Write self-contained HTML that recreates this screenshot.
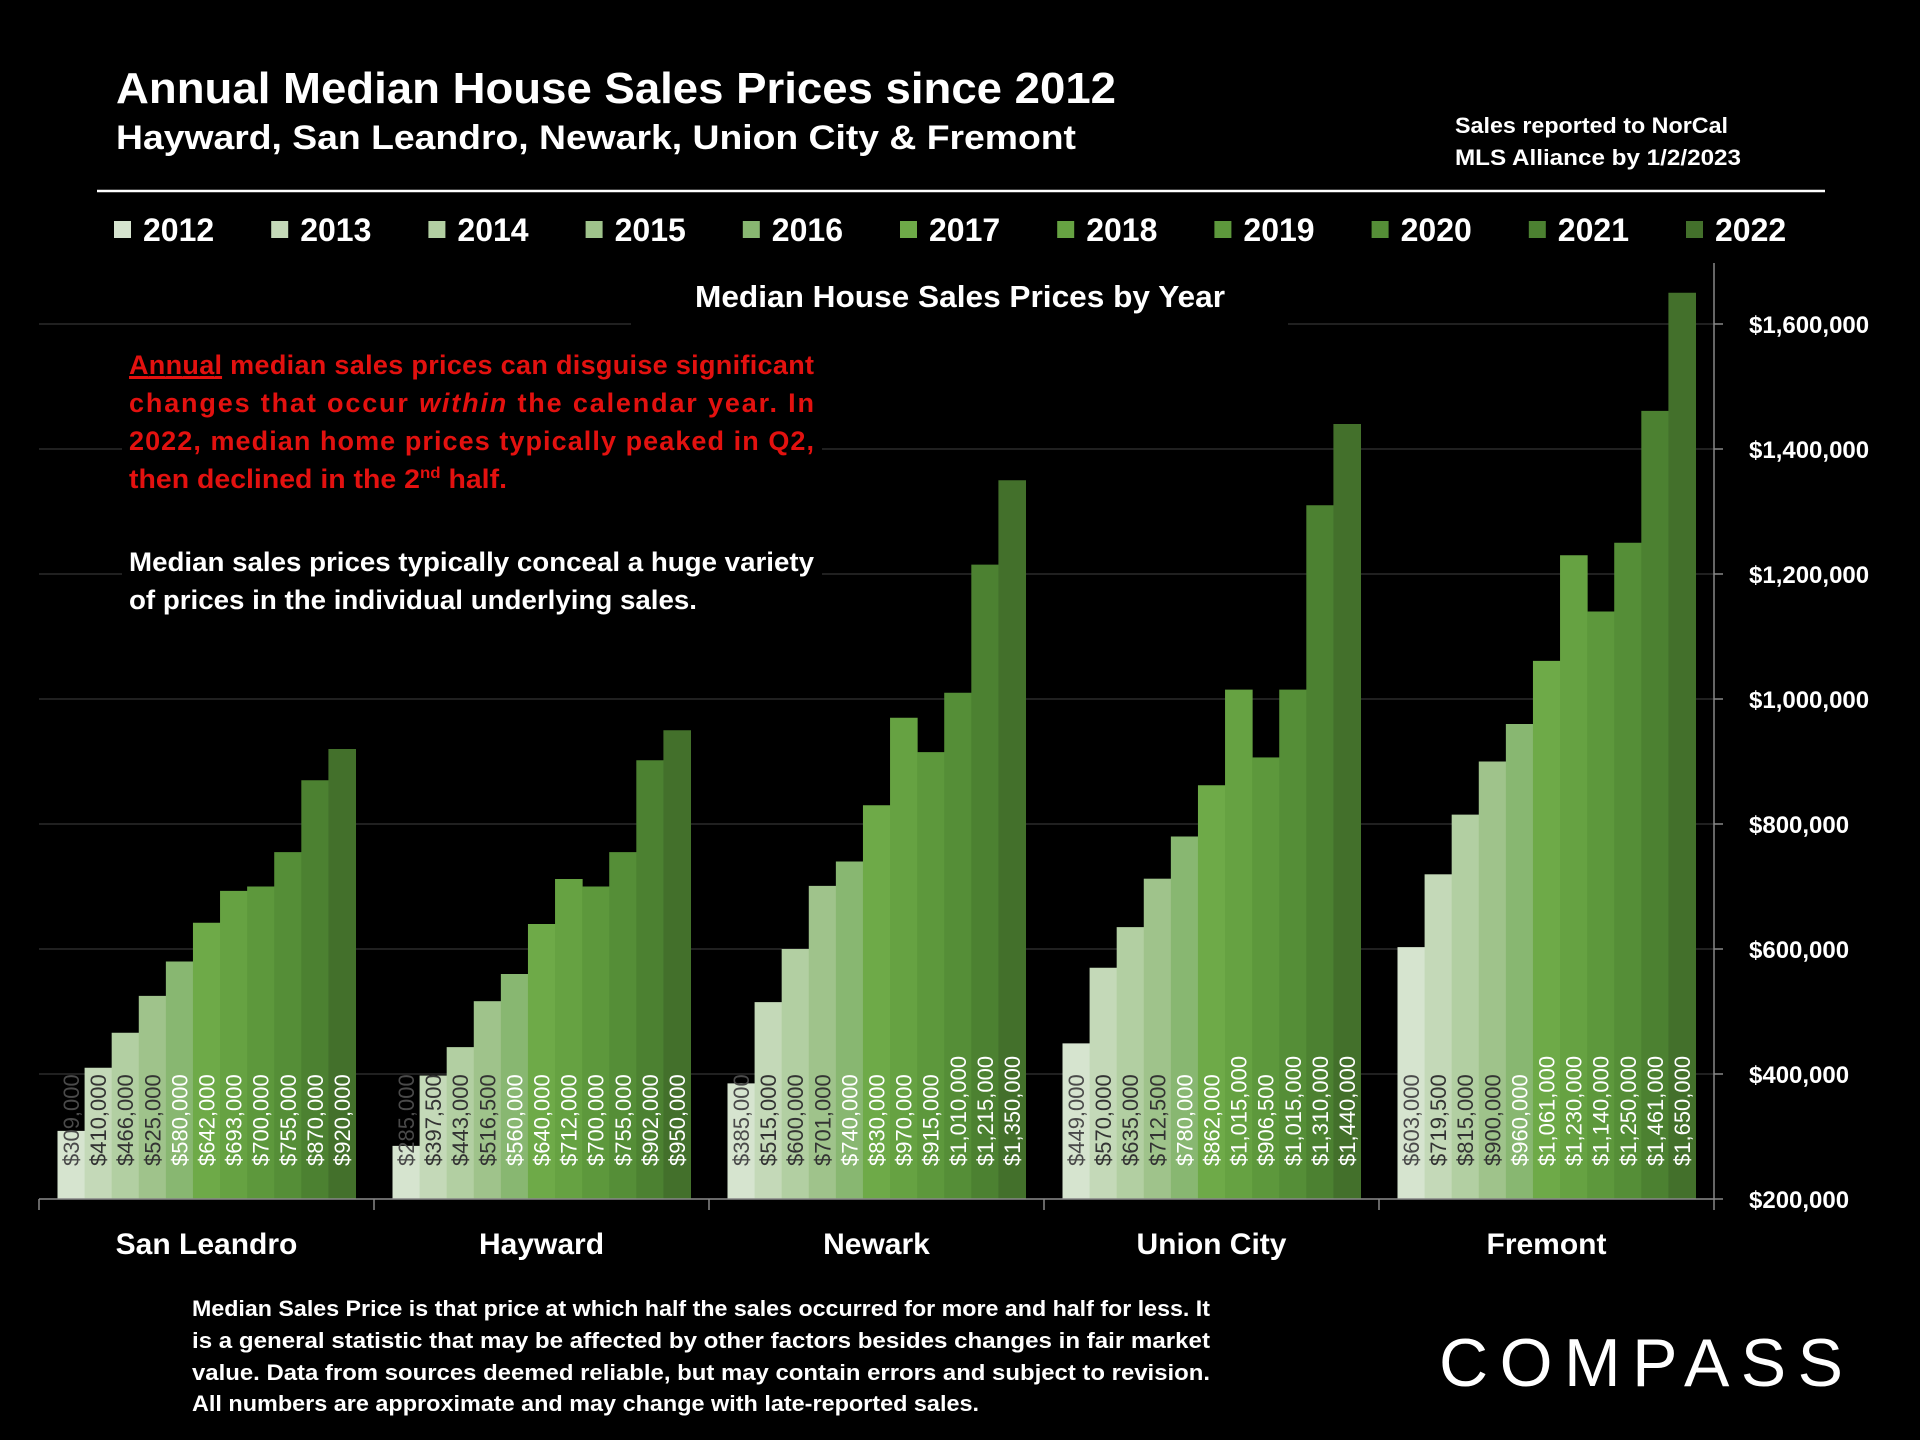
<!DOCTYPE html>
<html><head><meta charset="utf-8"><style>
html,body{margin:0;padding:0;background:#000;}
svg{display:block;font-family:"Liberation Sans",sans-serif;}
</style></head><body>
<svg id="chart" width="1920" height="1440" viewBox="0 0 1920 1440" xmlns="http://www.w3.org/2000/svg">
<rect width="1920" height="1440" fill="#000"/>
<text x="116" y="103" fill="#fff" font-weight="bold" font-size="44" textLength="1000" lengthAdjust="spacingAndGlyphs">Annual Median House Sales Prices since 2012</text>
<text x="116" y="149" fill="#fff" font-weight="bold" font-size="34" textLength="960" lengthAdjust="spacingAndGlyphs">Hayward, San Leandro, Newark, Union City &amp; Fremont</text>
<text x="1455" y="133" fill="#fff" font-weight="bold" font-size="22" textLength="273" lengthAdjust="spacingAndGlyphs">Sales reported to NorCal</text>
<text x="1455" y="165" fill="#fff" font-weight="bold" font-size="22" textLength="286" lengthAdjust="spacingAndGlyphs">MLS Alliance by 1/2/2023</text>
<line x1="97" y1="191" x2="1825" y2="191" stroke="#fff" stroke-width="2.5"/>
<g id="legend"></g>
<g id="grid"></g>
<g id="bars"></g>
<g id="labels"></g>
<g id="axes"></g>
<rect x="631" y="272" width="657" height="56" fill="#000"/>
<text x="960" y="307" text-anchor="middle" fill="#fff" font-weight="bold" font-size="31" textLength="530" lengthAdjust="spacingAndGlyphs">Median House Sales Prices by Year</text>
<rect x="122" y="340" width="700" height="285" fill="#000"/>
<g fill="#e3110f" font-weight="bold" font-size="27">
<text x="129" y="374" textLength="685" lengthAdjust="spacing"><tspan text-decoration="underline">Annual</tspan> median sales prices can disguise significant</text>
<line x1="129" y1="378" x2="222" y2="378" stroke="#e3110f" stroke-width="2"/>
<text x="129" y="412" textLength="685" lengthAdjust="spacing">changes that occur <tspan font-style="italic">within</tspan> the calendar year. In</text>
<text x="129" y="450" textLength="685" lengthAdjust="spacing">2022, median home prices typically peaked in Q2,</text>
<text x="129" y="488" textLength="378" lengthAdjust="spacingAndGlyphs">then declined in the 2<tspan font-size="16" dy="-10">nd</tspan><tspan dy="10"> half.</tspan></text>
</g>
<g fill="#fff" font-weight="bold" font-size="27">
<text x="129" y="571" textLength="685" lengthAdjust="spacingAndGlyphs">Median sales prices typically conceal a huge variety</text>
<text x="129" y="609" textLength="568" lengthAdjust="spacingAndGlyphs">of prices in the individual underlying sales.</text>
</g>
<g fill="#fff" font-weight="bold" font-size="22">
<text x="192" y="1316" textLength="1018" lengthAdjust="spacingAndGlyphs">Median Sales Price is that price at which half the sales occurred for more and half for less. It</text>
<text x="192" y="1348" textLength="1018" lengthAdjust="spacingAndGlyphs">is a general statistic that may be affected by other factors besides changes in fair market</text>
<text x="192" y="1380" textLength="1018" lengthAdjust="spacingAndGlyphs">value. Data from sources deemed reliable, but may contain errors and subject to revision.</text>
<text x="192" y="1411" textLength="787" lengthAdjust="spacingAndGlyphs">All numbers are approximate and may change with late-reported sales.</text>
</g>
<text x="1439" y="1386" fill="#fff" font-size="68" textLength="404" lengthAdjust="spacing">COMPASS</text>
</svg>
<script>
const categories = ["San Leandro","Hayward","Newark","Union City","Fremont"];
const years = ["2012","2013","2014","2015","2016","2017","2018","2019","2020","2021","2022"];
const sanLeandro = [309000,410000,466000,525000,580000,642000,693000,700000,755000,870000,920000];
const hayward = [285000,397500,443000,516500,560000,640000,712000,700000,755000,902000,950000];
const newark = [385000,515000,600000,701000,740000,830000,970000,915000,1010000,1215000,1350000];
const unionCity = [449000,570000,635000,712500,780000,862000,1015000,906500,1015000,1310000,1440000];
const fremont = [603000,719500,815000,900000,960000,1061000,1230000,1140000,1250000,1461000,1650000];
const yTicks = [200000,400000,600000,800000,1000000,1200000,1400000,1600000];
const series = [sanLeandro,hayward,newark,unionCity,fremont];
const colors = ["#d6e4cf","#c4d9b8","#b2cfa2","#9fc38b","#88b771","#6eaa48","#66a242","#5d983c","#558e37","#4c8131","#43702b"];
const NS="http://www.w3.org/2000/svg";
function mk(tag,attrs,parent){const e=document.createElementNS(NS,tag);for(const k in attrs)e.setAttribute(k,attrs[k]);parent.appendChild(e);return e;}
const plotL=39, plotR=1714, yBase=1199, yMin=200000, pxPer=125/200000;
function y(v){return yBase-(v-yMin)*pxPer;}
const catW=(plotR-plotL)/categories.length, gap=18.5, barW=(catW-2*gap)/years.length;
function xCat(i){return plotL+i*catW;}
function fmt(v){return "$"+v.toLocaleString("en-US");}
const grid=document.getElementById("grid"), bars=document.getElementById("bars"), labels=document.getElementById("labels"), axes=document.getElementById("axes"), legend=document.getElementById("legend");
yTicks.forEach(t=>{
  const l=mk("line",{x1:plotL,x2:plotR,y1:y(t),y2:y(t),stroke:"#333","stroke-width":1.2},grid);
  
  
  const tk=mk("line",{x1:plotR,x2:plotR+9,y1:y(t),y2:y(t),stroke:"#888","stroke-width":1.5},axes);
  
  
  const tx=mk("text",{x:1749,y:y(t)+9,fill:"#fff","font-weight":"bold","font-size":24},axes);
  tx.textContent=fmt(t);
  
  
});
series.forEach((vals,ci)=>{
  vals.forEach((v,yi)=>{
    const x=xCat(ci)+gap+yi*barW;
    const r=mk("rect",{x:x,y:y(v),width:barW+0.5,height:yBase-y(v),fill:colors[yi]},bars);
    
    
    const cx=x+barW/2+8, cy=1166;
    const col= yi===0 ? "#4a4a4a" : (yi<4 ? "#333" : "#fff");
    const t=mk("text",{x:cx,y:cy,transform:`rotate(-90 ${cx} ${cy})`,fill:col,"font-size":22},labels);
    t.textContent=fmt(v);
    
    
  });
  const cl=mk("text",{x:xCat(ci)+catW/2,y:1254,"text-anchor":"middle",fill:"#fff","font-weight":"bold","font-size":30},axes);
  cl.textContent=categories[ci];
  
  
});
const ax=mk("line",{x1:plotL,x2:plotR,y1:yBase,y2:yBase,stroke:"#888","stroke-width":1.5},axes);


for(let i=0;i<=categories.length;i++){
  const t=mk("line",{x1:xCat(i),x2:xCat(i),y1:yBase,y2:yBase+11,stroke:"#888","stroke-width":1.5},axes);
  
  
}
const ya=mk("line",{x1:plotR,x2:plotR,y1:263,y2:yBase,stroke:"#888","stroke-width":1.5},axes);


years.forEach((yr,i)=>{
  const lx=114+i*157.2;
  const g=mk("g",{},legend);
  
  
  mk("rect",{x:lx,y:221,width:17,height:17,fill:colors[i]},g);
  const t=mk("text",{x:lx+29,y:241,fill:"#fff","font-weight":"bold","font-size":32},g);
  t.textContent=yr;
});
</script>
</body></html>
